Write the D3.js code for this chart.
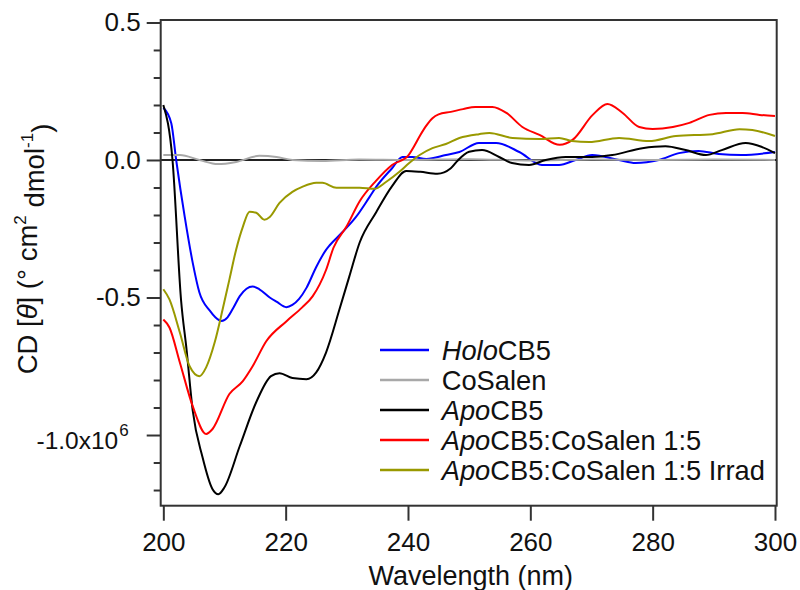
<!DOCTYPE html>
<html><head><meta charset="utf-8">
<script src="https://cdn.jsdelivr.net/npm/d3@7"></script>
<style>
html,body{margin:0;padding:0;background:#fff;}
svg text{font-family:"Liberation Sans",Arial,sans-serif;fill:#111;}
</style></head>
<body>
<svg id="c" width="800" height="590"></svg>
<script>
// ---- data (wavelength nm, CD in 10^6 units) ----
const holoX = [200,201.3,202.1,203.5,204.8,205.9,207.6,208.5,209.5,210.5,211.5,212.5,213.6,214.6,215.7,217.4,218.5,220.1,221.1,222.2,223.4,225,226.6,227.2,229.3,231.5,233.7,234.8,237.4,239.1,240.7,243,246.2,248.4,251.6,254.4,258.2,261.9,264.7,267.4,270.1,274.5,277.2,281,284.3,287.5,290.8,294.5,300];
const holoY = [0.19,0.134,0.0,-0.207,-0.373,-0.482,-0.548,-0.572,-0.585,-0.572,-0.535,-0.495,-0.468,-0.46,-0.47,-0.50,-0.515,-0.535,-0.527,-0.505,-0.465,-0.389,-0.327,-0.31,-0.262,-0.207,-0.135,-0.098,-0.03,0.011,0.011,0.004,0.018,0.029,0.062,0.062,0.029,-0.018,-0.018,0.0,0.018,0.0,-0.011,0.0,0.025,0.033,0.022,0.018,0.029];

const coX = [200,202.7,205.9,208.9,211.9,215.7,218.5,221.1,226,232,240,250,260,270,280,290,300];
const coY = [0.018,0.018,0.0,-0.015,-0.007,0.015,0.011,0.0,-0.004,0.002,0.0,0.003,-0.002,0.002,0.0,0.002,0.0];

const apoX = [200,201.5,202.9,203.8,204.8,206.4,208,209,210,212.5,215.2,217.6,219,221.1,223.4,225,226.6,228.8,230.4,232.1,234.8,237.4,239.7,242,244.8,247,248,250,252.1,254.9,257,259.8,262.5,265.8,270.1,273.4,278.3,282.1,285.4,288.7,291.3,295.2,297.9,300];
const apoY = [0.20,0.0,-0.51,-0.69,-0.91,-1.08,-1.195,-1.215,-1.19,-1.04,-0.88,-0.786,-0.775,-0.793,-0.797,-0.772,-0.70,-0.543,-0.424,-0.30,-0.19,-0.095,-0.04,-0.043,-0.05,-0.03,-0.005,0.03,0.036,0.011,-0.011,-0.018,0.0,0.011,0.011,0.018,0.043,0.05,0.036,0.018,0.036,0.062,0.047,0.025];

const mixX = [200,201,202.7,204.8,207,208.05,210.8,213,214.6,216.8,220.1,222.7,224.4,226.6,227.8,230,232.1,234.8,237.4,240,241,242,243,244,245,247,249,251,253.8,256.1,258.7,261.5,264.8,266.9,270.2,272.6,275.1,277.8,280,283.3,286,289.3,292,294.7,297.5,300];
const mixY = [-0.58,-0.609,-0.736,-0.895,-0.996,-0.978,-0.851,-0.804,-0.75,-0.66,-0.587,-0.536,-0.496,-0.40,-0.32,-0.24,-0.15,-0.075,-0.018,0.015,0.05,0.09,0.125,0.152,0.166,0.175,0.185,0.193,0.193,0.171,0.12,0.091,0.055,0.073,0.164,0.204,0.171,0.12,0.113,0.12,0.135,0.164,0.171,0.171,0.164,0.16];

const irrX = [200,201,202.7,204.3,205.9,207,208.4,209.7,210.8,211.9,213,214.1,215.2,216.5,217.4,219,221.1,222.7,225,226,228.3,229.9,232.1,234.5,236.4,238.6,240.2,241.9,244,246.2,248.4,251.6,253.3,257.1,261.5,264.7,266.8,269.6,274.5,279.4,283.8,289.8,294.2,296.3,300];
const irrY = [-0.47,-0.507,-0.627,-0.75,-0.786,-0.754,-0.663,-0.543,-0.435,-0.326,-0.243,-0.188,-0.192,-0.217,-0.207,-0.156,-0.116,-0.098,-0.083,-0.083,-0.101,-0.101,-0.101,-0.105,-0.08,-0.043,-0.011,0.018,0.043,0.058,0.08,0.094,0.098,0.08,0.076,0.08,0.069,0.065,0.08,0.069,0.087,0.094,0.112,0.109,0.087];

const seriesNames = ["HoloCB5","CoSalen","ApoCB5","ApoCB5:CoSalen 1:5","ApoCB5:CoSalen 1:5 Irrad"];
const seriesColors = ["#0000ff","#a8a8a8","#000000","#ff0000","#999900"];
const xTicks = [200,220,240,260,280,300];
const yMajor = [0.5,0.0,-0.5,-1.0];
const yMajorLabels = ["0.5","0.0","-0.5","-1.0x10"];
const yMinor = [0.4,0.3,0.2,0.1,-0.1,-0.2,-0.3,-0.4,-0.6,-0.7,-0.8,-0.9,-1.1,-1.2];

// ---- layout ----
const L = 160.7, R = 776.7, T = 20, B = 505.7;
const svg = d3.select("#c");
const x = d3.scaleLinear().domain([199.57, 300.28]).range([L, R]);
const y = d3.scaleLinear().domain([0.509, -1.257]).range([T, B]);

// zero line
svg.append("line").attr("x1",L).attr("x2",R).attr("y1",y(0)).attr("y2",y(0))
  .attr("stroke","#222").attr("stroke-width",2);

const line = d3.line().x(d=>x(d[0])).y(d=>y(d[1])).curve(d3.curveMonotoneX);
const allX = [holoX,coX,apoX,mixX,irrX];
const allY = [holoY,coY,apoY,mixY,irrY];
allX.forEach((xs,i)=>{
  const pts = xs.map((v,j)=>[v, allY[i][j]]);
  svg.append("path").attr("d", line(pts)).attr("fill","none")
    .attr("stroke", seriesColors[i]).attr("stroke-width",2).attr("stroke-linejoin","round");
});

// frame
svg.append("rect").attr("x",L).attr("y",T).attr("width",R-L).attr("height",B-T)
  .attr("fill","none").attr("stroke","#333").attr("stroke-width",2);

// y axis
const yAx = svg.append("g").attr("transform",`translate(${L},0)`)
  .call(d3.axisLeft(y).tickValues(yMajor).tickSize(14).tickPadding(6)
    .tickFormat((d,i)=> yMajorLabels[i]));
yAx.select(".domain").remove();
yAx.selectAll(".tick line").attr("stroke","#333").attr("stroke-width",2);
yAx.selectAll(".tick text").attr("font-size",26).attr("fill","#111")
  .attr("font-family","Liberation Sans, Arial, sans-serif");
yAx.selectAll(".tick text").filter(d=>d===-1).each(function(){
  const t = d3.select(this);
  t.attr("x",-32).attr("font-size",24.5).attr("dy","0.55em");
  t.append("tspan").text("6").attr("font-size",17).attr("dy","-0.75em").attr("dx","1");
});
const yMin = svg.append("g").attr("transform",`translate(${L},0)`)
  .call(d3.axisLeft(y).tickValues(yMinor).tickSize(7).tickFormat(""));
yMin.select(".domain").remove();
yMin.selectAll(".tick line").attr("stroke","#333").attr("stroke-width",2);

// x axis
const xAx = svg.append("g").attr("transform",`translate(0,${B})`)
  .call(d3.axisBottom(x).tickValues(xTicks).tickSize(15).tickPadding(12).tickFormat(d3.format("d")));
xAx.select(".domain").remove();
xAx.selectAll(".tick line").attr("stroke","#333").attr("stroke-width",2);
xAx.selectAll(".tick text").attr("font-size",26).attr("fill","#111")
  .attr("font-family","Liberation Sans, Arial, sans-serif");

// axis titles
svg.append("text").attr("x",(L+R)/2+2).attr("y",585).attr("text-anchor","middle")
  .attr("font-size",27).text("Wavelength (nm)");

const yl = svg.append("text").attr("transform","translate(37,249) rotate(-90)")
  .attr("text-anchor","middle").attr("font-size",27.5);
yl.append("tspan").text("CD [");
yl.append("tspan").text("θ").attr("font-style","italic");
yl.append("tspan").text("] (° cm");
yl.append("tspan").text("2").attr("font-size",17).attr("dy","-0.65em");
yl.append("tspan").text(" dmol").attr("dy","0.65em").attr("font-size",27.5);
yl.append("tspan").text("-1").attr("font-size",17).attr("dy","-0.65em");
yl.append("tspan").text(")").attr("dy","0.65em").attr("font-size",27.5);

// legend
const legItalic = ["Holo","","Apo","Apo","Apo"];
const legRest = ["CB5","CoSalen","CB5","CB5:CoSalen 1:5","CB5:CoSalen 1:5 Irrad"];
seriesNames.forEach((n,i)=>{
  const cy = 350 + i*30;
  svg.append("line").attr("x1",380).attr("x2",429).attr("y1",cy).attr("y2",cy)
    .attr("stroke",seriesColors[i]).attr("stroke-width",2.5);
  const t = svg.append("text").attr("x",441.7).attr("y",cy+9.5).attr("font-size",27.3);
  if (legItalic[i]) t.append("tspan").text(legItalic[i]).attr("font-style","italic");
  t.append("tspan").text(legRest[i]);
});
</script>
</body></html>
